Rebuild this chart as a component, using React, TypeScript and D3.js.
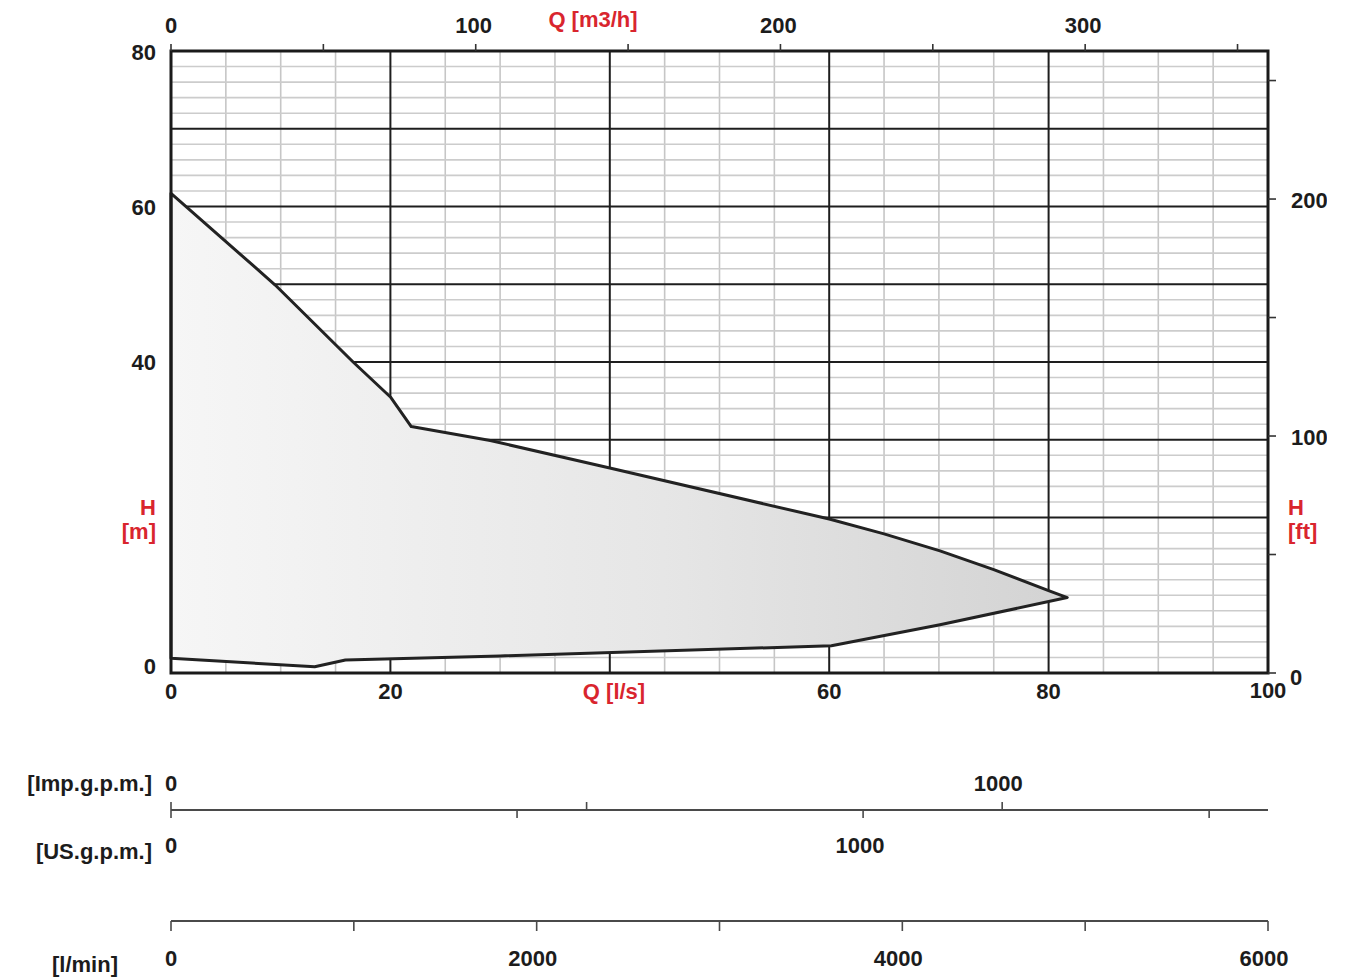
import React from "react";
import * as d3 from "d3";

// Pump operating envelope (Q in l/s, H in m)
const upperQ = [0, 9.5, 16.6, 20.0, 21.9, 29.1, 39.9, 60.0, 65.0, 70.1, 75.0, 80.0, 81.7];
const upperH = [61.7, 49.9, 40.0, 35.5, 31.7, 29.9, 26.4, 19.8, 17.9, 15.7, 13.3, 10.6, 9.7];
const lowerQ = [70.1, 60.2, 30.0, 15.9, 13.1, 0];
const lowerH = [6.2, 3.5, 2.2, 1.67, 0.81, 1.89];

// Axis tick values / labels
const qLsLabels = [0, 20, 60, 80, 100];
const hMLabels = [0, 40, 60, 80];
const m3hTicks = [0, 50, 100, 150, 200, 250, 300, 350];
const m3hLabels = [0, 100, 200, 300];
const ftTicks = [0, 50, 100, 150, 200, 250];
const ftLabels = [0, 100, 200];
const impUpTicks = [0, 500, 1000];
const impLabels = [0, 1000];
const usDownTicks = [0, 500, 1000, 1500];
const usLabels = [0, 1000];
const lminTicks = [0, 1000, 2000, 3000, 4000, 5000, 6000];
const lminLabels = [0, 2000, 4000, 6000];

const QMAX = 100;
const HMAX = 80;

export default function App() {
  const L = 171, R = 1268, T = 51, B = 673;
  const x = d3.scaleLinear().domain([0, QMAX]).range([L, R]);
  const y = d3.scaleLinear().domain([0, HMAX]).range([B, T]);
  const xm3h = d3.scaleLinear().domain([0, QMAX * 3.6]).range([L, R]);
  const yft = d3.scaleLinear().domain([0, HMAX / 0.3048]).range([B, T]);
  const lminMax = QMAX * 60;
  const xImp = d3.scaleLinear().domain([0, lminMax / 4.54609]).range([L, R]);
  const xUs = d3.scaleLinear().domain([0, lminMax / 3.78541]).range([L, R]);
  const xL = d3.scaleLinear().domain([0, lminMax]).range([L, R]);

  const minorV = d3.range(0, QMAX + 0.1, 5).filter((v) => v % 20 !== 0);
  const majorV = [20, 40, 60, 80];
  const minorH = d3.range(0, HMAX + 0.1, 2).filter((v) => v % 10 !== 0 || v === 10);
  const majorH = [20, 30, 40, 50, 60, 70];

  const pts: [number, number][] = [
    ...upperQ.map((q, i) => [q, upperH[i]] as [number, number]),
    ...lowerQ.map((q, i) => [q, lowerH[i]] as [number, number]),
  ];
  const line = d3
    .line<[number, number]>()
    .x((d) => x(d[0]))
    .y((d) => y(d[1]));
  const poly = line(pts) + "Z";

  const font = "'Liberation Sans', Arial, Helvetica, sans-serif";
  const tc = "#1c1c1c";
  const red = "#d9252e";
  const fs = 22;
  const sh = (v: number, d: number) => (v === 0 ? 0 : d);

  return (
    <svg
      width={1360}
      height={978}
      style={{ position: "absolute", left: 0, top: 0, background: "#fff" }}
      fontFamily={font}
      fontSize={fs}
      fontWeight="bold"
    >
      <defs>
        <linearGradient id="fillg" x1="0" y1="0" x2="1" y2="0">
          <stop offset="0%" stopColor="#f6f6f6" />
          <stop offset="55%" stopColor="#e6e6e6" />
          <stop offset="100%" stopColor="#d3d3d3" />
        </linearGradient>
        <clipPath id="rclip">
          <rect x={0} y={0} width={1327} height={978} />
        </clipPath>
      </defs>
      <rect x={0} y={0} width={1360} height={978} fill="#fff" />

      {/* minor grid */}
      {minorV.map((v) => (
        <line key={"mv" + v} x1={x(v)} x2={x(v)} y1={T} y2={B} stroke="#c6c6c6" strokeWidth={1.6} />
      ))}
      {minorH.map((v) => (
        <line key={"mh" + v} x1={L} x2={R} y1={y(v)} y2={y(v)} stroke="#cccccc" strokeWidth={1.6} />
      ))}
      {/* major grid */}
      {majorV.map((v) => (
        <line key={"Mv" + v} x1={x(v)} x2={x(v)} y1={T} y2={B} stroke="#1e1e1e" strokeWidth={2} />
      ))}
      {majorH.map((v) => (
        <line key={"Mh" + v} x1={L} x2={R} y1={y(v)} y2={y(v)} stroke="#1e1e1e" strokeWidth={2} />
      ))}

      {/* envelope */}
      <path d={poly} fill="url(#fillg)" stroke="#222" strokeWidth={3} strokeLinejoin="round" />

      {/* frame */}
      <rect x={L} y={T} width={R - L} height={B - T} fill="none" stroke="#1a1a1a" strokeWidth={3} />

      {/* top ticks m3/h */}
      {m3hTicks.map((v) => (
        <line key={"tt" + v} x1={xm3h(v)} x2={xm3h(v)} y1={T} y2={T - 7} stroke="#333" strokeWidth={1.6} />
      ))}
      {m3hLabels.map((v) => (
        <text key={"tl" + v} x={xm3h(v) + sh(v, -2)} y={33} textAnchor="middle" fill={tc}>
          {v}
        </text>
      ))}
      <text x={593} y={27} textAnchor="middle" fill={red}>
        Q [m3/h]
      </text>

      {/* right ticks ft */}
      {ftTicks.map((v) => (
        <line key={"rt" + v} x1={R} x2={R + 8} y1={yft(v)} y2={yft(v)} stroke="#333" strokeWidth={1.6} />
      ))}
      <g clipPath="url(#rclip)">
        {ftLabels.map((v) => (
          <text key={"rl" + v} x={v === 0 ? 1290 : 1291} y={yft(v) + (v === 0 ? 12 : 9)} textAnchor="start" fill={tc}>
            {v}
          </text>
        ))}
      </g>
      <text x={1288} y={515} fill={red}>H</text>
      <text x={1288} y={539} fill={red}>[ft]</text>

      {/* left labels m */}
      {hMLabels.map((v) => (
        <text key={"ll" + v} x={156} y={y(v) + (v === 0 ? 1 : v === 80 ? 9 : 8)} textAnchor="end" fill={tc}>
          {v}
        </text>
      ))}
      <text x={156} y={515} textAnchor="end" fill={red}>H</text>
      <text x={156} y={539} textAnchor="end" fill={red}>[m]</text>

      {/* bottom labels l/s */}
      {qLsLabels.map((v) => (
        <text key={"bl" + v} x={x(v)} y={v === 100 ? 698 : 699} textAnchor="middle" fill={tc}>
          {v}
        </text>
      ))}
      <text x={614} y={699} textAnchor="middle" fill={red}>
        Q [l/s]
      </text>

      {/* Imp / US gpm axis */}
      <line x1={L} x2={R} y1={810} y2={810} stroke="#4a4a4a" strokeWidth={2} />
      {impUpTicks.map((v) => (
        <line key={"iu" + v} x1={xImp(v)} x2={xImp(v)} y1={810} y2={802} stroke="#4a4a4a" strokeWidth={1.6} />
      ))}
      {usDownTicks.map((v) => (
        <line key={"ud" + v} x1={xUs(v)} x2={xUs(v)} y1={810} y2={818} stroke="#4a4a4a" strokeWidth={1.6} />
      ))}
      {impLabels.map((v) => (
        <text key={"il" + v} x={xImp(v) + sh(v, -4)} y={791} textAnchor="middle" fill={tc}>
          {v}
        </text>
      ))}
      <text x={152} y={791} textAnchor="end" fill={tc}>[Imp.g.p.m.]</text>
      {usLabels.map((v) => (
        <text key={"ul" + v} x={xUs(v) + sh(v, -3)} y={853} textAnchor="middle" fill={tc}>
          {v}
        </text>
      ))}
      <text x={152} y={859} textAnchor="end" fill={tc}>[US.g.p.m.]</text>

      {/* l/min axis */}
      <line x1={L} x2={R} y1={921} y2={921} stroke="#4a4a4a" strokeWidth={2} />
      {lminTicks.map((v) => (
        <line key={"lt" + v} x1={xL(v)} x2={xL(v)} y1={921} y2={931} stroke="#4a4a4a" strokeWidth={1.6} />
      ))}
      {lminLabels.map((v) => (
        <text key={"lm" + v} x={xL(v) + sh(v, -4)} y={966} textAnchor="middle" fill={tc}>
          {v}
        </text>
      ))}
      <text x={85} y={972} textAnchor="middle" fill={tc}>[l/min]</text>
    </svg>
  );
}
